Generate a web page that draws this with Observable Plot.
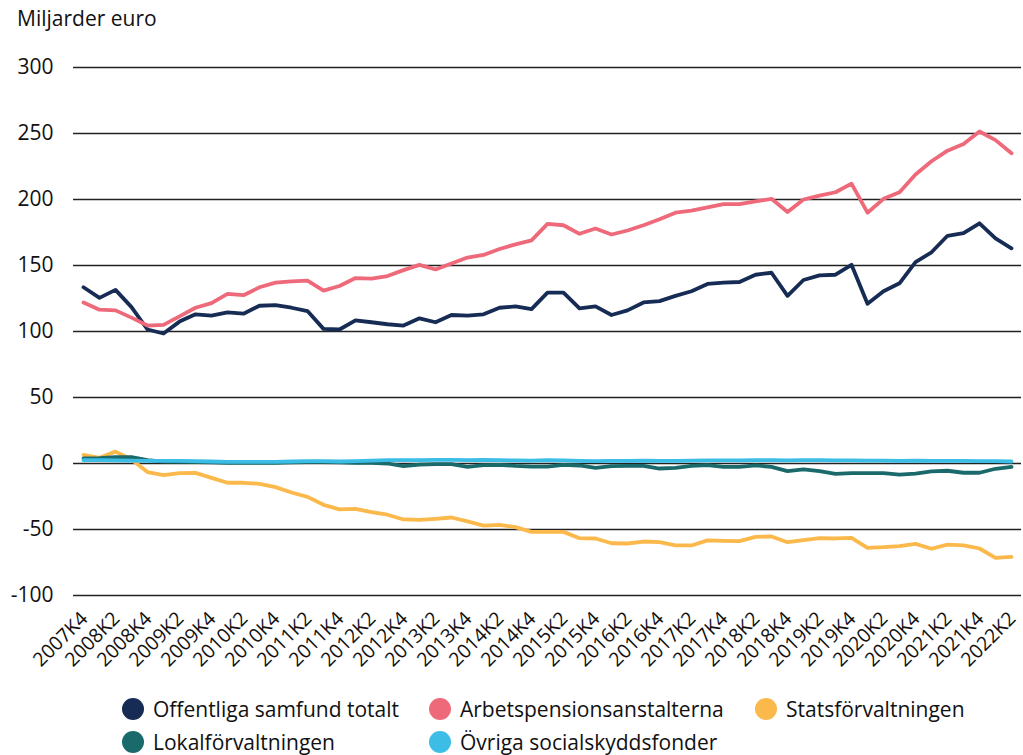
<!DOCTYPE html>
<html>
<head>
<meta charset="utf-8">
<script src="https://cdn.jsdelivr.net/npm/d3@7"></script>
<script src="https://cdn.jsdelivr.net/npm/@observablehq/plot@0.6"></script>
<style>
  html, body { margin: 0; padding: 0; background: #fff; }
  body { font-family: "Open Sans", "Noto Sans", sans-serif; color: #111; }
  #wrap { position: relative; width: 1023px; height: 755px; overflow: hidden; }
  #title { position: absolute; left: 17px; top: 6px; font-size: 21px; line-height: 24px; }
  #chart { position: absolute; left: 0; top: 40px; }
  .leg { position: absolute; display: flex; align-items: center; font-size: 21px; line-height: 24px; white-space: nowrap; }
  .leg .dot { width: 22px; height: 22px; border-radius: 50%; margin-right: 9px; flex: none; }
</style>
</head>
<body>
<div id="wrap">
  <div id="title">Miljarder euro</div>
  <div id="chart"></div>
  <div id="legend"></div>
</div>
<script>
const quarters = [
  "2007K4",
  "2008K1","2008K2","2008K3","2008K4",
  "2009K1","2009K2","2009K3","2009K4",
  "2010K1","2010K2","2010K3","2010K4",
  "2011K1","2011K2","2011K3","2011K4",
  "2012K1","2012K2","2012K3","2012K4",
  "2013K1","2013K2","2013K3","2013K4",
  "2014K1","2014K2","2014K3","2014K4",
  "2015K1","2015K2","2015K3","2015K4",
  "2016K1","2016K2","2016K3","2016K4",
  "2017K1","2017K2","2017K3","2017K4",
  "2018K1","2018K2","2018K3","2018K4",
  "2019K1","2019K2","2019K3","2019K4",
  "2020K1","2020K2","2020K3","2020K4",
  "2021K1","2021K2","2021K3","2021K4",
  "2022K1","2022K2"
];
const xTickLabels = [
  "2007K4","2008K2","2008K4","2009K2","2009K4","2010K2","2010K4","2011K2","2011K4","2012K2",
  "2012K4","2013K2","2013K4","2014K2","2014K4","2015K2","2015K4","2016K2","2016K4","2017K2",
  "2017K4","2018K2","2018K4","2019K2","2019K4","2020K2","2020K4","2021K2","2021K4","2022K2"
];
const yTicks = [-100, -50, 0, 50, 100, 150, 200, 250, 300];

const seriesNames = [
  "Offentliga samfund totalt",
  "Arbetspensionsanstalterna",
  "Statsförvaltningen",
  "Lokalförvaltningen",
  "Övriga socialskyddsfonder"
];
const seriesColors = ["#172c55", "#ee6a7b", "#fbb84b", "#1b6a6b", "#3bbde6"];

const offentliga = [
  133.5, 125.5, 131.5, 118.5, 101.5, 98.5, 107.5, 113, 112, 114.5,
  113.5, 119.5, 120, 118, 115.5, 102, 101.5, 108.5, 107, 105.5,
  104.5, 110, 107, 112.5, 112, 113, 118, 119, 117, 129.5,
  129.5, 117.5, 119, 112.5, 116, 122, 123, 127, 130.5, 136,
  137, 137.5, 143, 144.5, 127, 139, 142.5, 143, 150.5, 121,
  130.5, 136.5, 152.5, 160, 172.5, 174.5, 182, 170.5, 163
];
const arbetspension = [
  122, 116.5, 116, 110.5, 104.5, 105, 111.5, 118, 121.5, 128.5,
  127.5, 133.5, 137, 138, 138.5, 131, 134.5, 140.5, 140, 142,
  146.5, 150.5, 147, 151.5, 156, 158, 162.5, 166, 169, 181.5,
  180.5, 174, 178, 173.5, 176.5, 180.5, 185, 190, 191.5, 194,
  196.5, 196.5, 198.5, 200.5, 190.5, 200, 203, 205.5, 212, 190,
  200.5, 205.5, 219, 229, 237, 242, 251.5, 245, 235
];
const stats = [
  6.5, 4.3, 9, 3, -6.5, -8.8, -7.3, -7.1, -10.9, -14.6,
  -14.6, -15.4, -17.9, -22, -25.3, -31.3, -34.8, -34.3, -36.9, -38.8,
  -42.4, -42.7, -41.9, -40.9, -43.9, -47, -46.5, -48.2, -51.8, -51.8,
  -51.8, -56.6, -56.8, -60.4, -60.6, -59.1, -59.6, -62.1, -62.1, -58.2,
  -58.6, -58.8, -55.6, -55.3, -59.6, -58.1, -56.6, -56.8, -56.3, -63.9,
  -63.4, -62.6, -60.9, -64.6, -61.4, -62.1, -64.4, -71.5, -70.7
];
const lokal = [
  3.8, 4, 4.8, 4.8, 2.5, 1.5, 1.2, 1, 0.8, 0.5,
  0.5, 0.5, 0.5, 0.8, 1, 1, 0.8, 0.5, 0.5, 0,
  -2, -0.8, -0.5, -0.5, -2.5, -1.3, -1, -1.8, -2.3, -2.3,
  -1, -1.5, -3.3, -2, -1.8, -1.8, -3.8, -3.3, -1.8, -1.3,
  -2.5, -2.5, -1.5, -2.5, -5.8, -4.5, -5.8, -7.8, -7.3, -7.3,
  -7.3, -8.5, -7.6, -6, -5.5, -7, -7, -4, -2.5
];
const ovriga = [
  2.5, 2.5, 2.3, 2.2, 2, 2, 2, 1.8, 1.5, 1.3,
  1.2, 1.2, 1.3, 1.5, 1.8, 1.8, 1.5, 1.8, 2.2, 2.5,
  2.5, 2.5, 2.8, 2.8, 2.5, 2.7, 2.5, 2.3, 2.2, 2.5,
  2.3, 2, 1.8, 2, 2, 2.2, 2, 2, 2.2, 2.3,
  2.3, 2.3, 2.5, 2.5, 2.3, 2.5, 2.5, 2.3, 2.3, 2.2,
  2.2, 2, 2.2, 2, 2, 2, 1.8, 1.8, 1.5
];

const seriesValues = [offentliga, arbetspension, stats, lokal, ovriga];
const data = [];
seriesNames.forEach((name, s) => {
  seriesValues[s].forEach((v, i) => data.push({series: name, quarter: quarters[i], value: v}));
});

const chart = Plot.plot({
  width: 1023,
  height: 660,
  marginTop: 27,
  marginBottom: 105,
  marginLeft: 73,
  marginRight: 2,
  style: {fontFamily: "'Open Sans', 'Noto Sans', sans-serif", fontSize: "20px", color: "#111", background: "#fff"},
  x: {type: "point", domain: quarters, padding: 0.48},
  y: {domain: [-100, 300]},
  color: {domain: seriesNames, range: seriesColors},
  marks: [
    Plot.ruleY(yTicks, {stroke: "#222", strokeWidth: 1.3}),
    Plot.axisY({ticks: yTicks, tickSize: 0, tickPadding: 20, fontSize: 21, label: null, tickFormat: d => String(d)}),
    Plot.axisX({ticks: xTickLabels, tickSize: 0, tickPadding: 20, dx: 1, tickRotate: -45, fontSize: 19.5, label: null}),
    Plot.line(data, {x: "quarter", y: "value", z: "series", stroke: "series", strokeWidth: 3.8, strokeLinejoin: "round", strokeLinecap: "round"})
  ]
});
document.getElementById("chart").appendChild(chart);

const legendPos = [
  {left: 122, top: 697}, {left: 429, top: 697}, {left: 755, top: 697},
  {left: 122, top: 730}, {left: 429, top: 730}
];
const legend = document.getElementById("legend");
seriesNames.forEach((name, i) => {
  const item = document.createElement("div");
  item.className = "leg";
  item.style.left = legendPos[i].left + "px";
  item.style.top = legendPos[i].top + "px";
  const dot = document.createElement("span");
  dot.className = "dot";
  dot.style.background = seriesColors[i];
  const label = document.createElement("span");
  label.textContent = name;
  item.appendChild(dot);
  item.appendChild(label);
  legend.appendChild(item);
});
</script>
</body>
</html>
